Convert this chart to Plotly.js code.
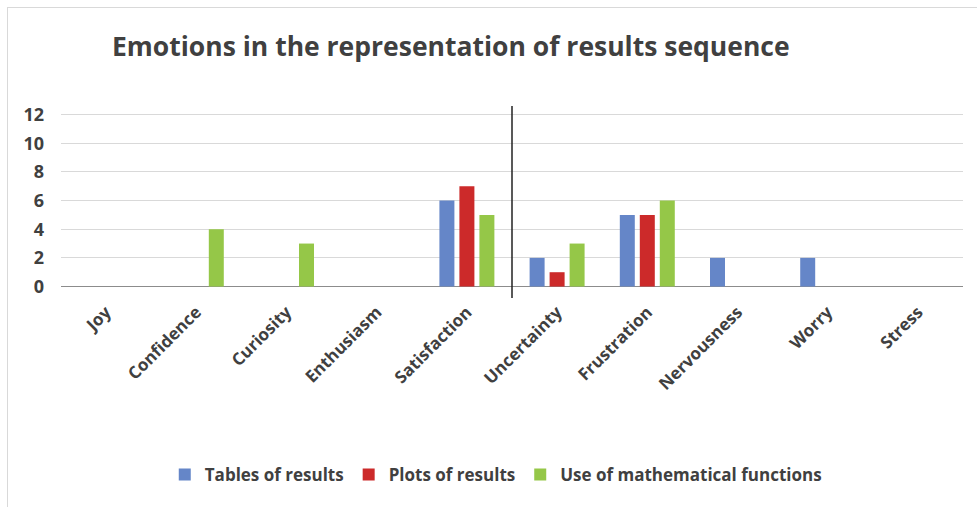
<!DOCTYPE html>
<html>
<head>
<meta charset="utf-8">
<script src="https://cdn.plot.ly/plotly-3.0.1.min.js"></script>
<style>
  html, body { margin: 0; padding: 0; background: #ffffff; }
  #frame { position: absolute; left: 7px; top: 7px; width: 990px; height: 520px;
           border-left: 1px solid #d9d9d9; border-top: 1px solid #d9d9d9; }
  #chart { position: absolute; left: 0; top: 0; width: 977px; height: 507px; }
</style>
</head>
<body>
<div id="frame"></div>
<div id="chart"></div>
<script>
// Emotion categories along the x axis
const emotions = ["Joy", "Confidence", "Curiosity", "Enthusiasm", "Satisfaction",
                  "Uncertainty", "Frustration", "Nervousness", "Worry", "Stress"];

// Counts per representation type
const tablesOfResults = [0, 0, 0, 0, 6, 2, 5, 2, 2, 0];
const plotsOfResults  = [0, 0, 0, 0, 7, 1, 5, 0, 0, 0];
const mathFunctions   = [0, 4, 3, 0, 5, 3, 6, 0, 0, 0];

const seriesNames = ["Tables of results", "Plots of results", "Use of mathematical functions"];
const yTicks = [0, 2, 4, 6, 8, 10, 12];

const FONT = "Open Sans, Liberation Sans, sans-serif";
const TEXT = "#404040";

const colours = ["#6586c8", "#cc2a2a", "#95c748"];
const values = [tablesOfResults, plotsOfResults, mathFunctions];

const traces = values.map((v, i) => ({
  type: "bar",
  name: seriesNames[i],
  x: emotions,
  y: v,
  marker: { color: colours[i] },
  hoverinfo: "x+y+name"
}));

const layout = {
  width: 977,
  height: 507,
  paper_bgcolor: "rgba(0,0,0,0)",
  plot_bgcolor: "rgba(0,0,0,0)",
  margin: { l: 61, r: 14, t: 106, b: 208.5 },
  title: {
    text: "Emotions in the representation of results sequence",
    font: { family: FONT, size: 26.5, color: TEXT, weight: 700 },
    xref: "container", yref: "container",
    x: 112 / 977, xanchor: "left",
    y: 1 - 47 / 507, yanchor: "middle"
  },
  barmode: "group",
  bargap: 0.335,
  bargroupgap: 0.25,
  xaxis: {
    type: "category",
    tickangle: -45,
    tickfont: { family: FONT, size: 17, color: TEXT, weight: 700 },
    showgrid: false,
    showline: false,
    ticks: "",
    fixedrange: true
  },
  yaxis: {
    range: [-0.8, 12.6],
    tickvals: yTicks,
    ticktext: yTicks.map(String),
    tickfont: { family: FONT, size: 18, color: TEXT, weight: 700 },
    showgrid: true,
    gridcolor: "#d9d9d9",
    gridwidth: 1,
    zeroline: true,
    zerolinecolor: "#8c8c8c",
    zerolinewidth: 1.5,
    showline: false,
    ticks: "",
    ticklabelstandoff: 16,
    fixedrange: true
  },
  shapes: [{
    // divider between positive and negative emotions
    type: "line",
    xref: "x", yref: "paper",
    x0: 4.5, x1: 4.5, y0: 0, y1: 1,
    line: { color: "#222222", width: 1.5 }
  }],
  showlegend: true,
  legend: {
    orientation: "h",
    x: 0.482, xanchor: "center",
    y: (298.5 - 476) / 192.5, yanchor: "middle",
    font: { family: FONT, size: 17, color: TEXT, weight: 700 },
    itemwidth: 30,
    tracegroupgap: 0
  }
};

Plotly.newPlot("chart", traces, layout, { displayModeBar: false, staticPlot: true });
</script>
</body>
</html>
